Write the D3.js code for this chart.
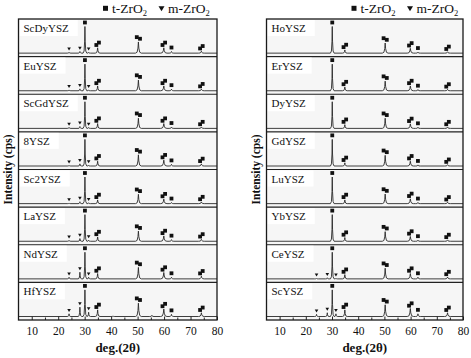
<!doctype html>
<html>
<head>
<meta charset="utf-8" />
<script src="https://d3js.org/d3.v7.min.js"></script>
<style>
  body { margin: 0; padding: 0; background: #fff; }
  svg { display: block; font-family: "Liberation Serif", "Times New Roman", serif; }
</style>
</head>
<body>
<script>
// muestras de cada panel (de arriba a abajo)
const leftSamples = ["ScDyYSZ", "EuYSZ", "ScGdYSZ", "8YSZ", "Sc2YSZ", "LaYSZ", "NdYSZ", "HfYSZ"];
const rightSamples = ["HoYSZ", "ErYSZ", "DyYSZ", "GdYSZ", "LuYSZ", "YbYSZ", "CeYSZ", "ScYSZ"];

// posiciones de los picos (2θ), fase y número de marcadores
const peakPos = [24.1, 28.2, 30.1, 31.5, 34.9, 40.7, 50.3, 55.4, 59.9, 62.8, 74.1];
const peakPhase = ["m", "m", "t", "m", "t", "", "t", "", "t", "t", "t"];
const peakMarks = [1, 1, 1, 1, 2, 0, 2, 0, 2, 1, 2];
const peakWidth = [0.7, 0.7, 0.7, 0.7, 0.9, 0.7, 1.1, 0.8, 1.2, 0.9, 1.1];

// intensidades relativas (pico principal = 100)
const leftHeights = [
  [3, 6, 100, 3, 20, 0, 42, 0, 20, 6, 7],
  [3, 7, 100, 3, 18, 0, 40, 0, 18, 6, 6],
  [3, 7, 100, 3, 18, 0, 38, 0, 18, 5, 5],
  [2, 8, 100, 3, 18, 0, 42, 0, 22, 6, 8],
  [2, 7, 100, 3, 14, 0, 35, 0, 17, 4, 6],
  [3, 10, 100, 4, 16, 0, 38, 0, 20, 6, 7],
  [6, 25, 100, 6, 20, 0, 43, 0, 24, 6, 10],
  [10, 35, 100, 16, 25, 2, 50, 4, 28, 8, 14]
];
const rightHeights = [
  [0, 0, 100, 0, 12, 0, 38, 0, 18, 4, 5],
  [0, 0, 100, 0, 14, 0, 36, 0, 18, 4, 5],
  [0, 0, 100, 0, 14, 0, 38, 0, 17, 4, 5],
  [0, 0, 100, 0, 12, 0, 40, 0, 18, 4, 5],
  [0, 0, 100, 0, 14, 0, 36, 0, 18, 4, 5],
  [0, 0, 100, 0, 14, 0, 36, 0, 18, 4, 5],
  [2, 4, 100, 2, 16, 0, 40, 0, 20, 6, 7],
  [8, 14, 100, 10, 25, 0, 44, 0, 30, 10, 14]
];

const majorTicks = [10, 20, 30, 40, 50, 60, 70, 80];
const minorTicks = [15, 25, 35, 45, 55, 65, 75];

const W = 471, H = 358;
const plotTop = 19, plotBottom = 320;

const svg = d3.select("body").append("svg")
  .attr("width", W)
  .attr("height", H);

const panels = [
  { samples: leftSamples, heights: leftHeights, x0: 18.5, x1: 217, ylabX: 8, legX: 103 },
  { samples: rightSamples, heights: rightHeights, x0: 266.5, x1: 463, ylabX: 256, legX: 351.5 }
];

// forma de un pico (fracción del ancho, fracción de la altura)
const profile = [[-1, 0], [-0.45, 0.08], [-0.15, 0.45], [0, 1], [0.15, 0.45], [0.45, 0.08], [1, 0]];

// desplazamiento de los marcadores dobles (px)
const pairOffset = {
  4: [[-1.3, 1.2], [1.3, -1.2]],
  6: [[-1.6, -0.8], [1.6, 0.8]],
  8: [[-1.3, 1.2], [1.3, -1.2]],
  10: [[-1.3, 1.2], [1.3, -1.2]]
};

panels.forEach(p => {
  const x = d3.scaleLinear().domain([5, 80]).range([p.x0, p.x1]);
  const band = d3.scaleBand().domain(p.samples).range([plotTop, plotBottom]);
  const g = svg.append("g");

  g.append("rect")
    .attr("x", p.x0).attr("y", plotTop)
    .attr("width", p.x1 - p.x0).attr("height", plotBottom - plotTop)
    .attr("fill", "#f6f6f6");

  p.samples.forEach((s, i) => {
    const bt = band(s);
    const bb = bt + band.bandwidth();
    const y = d3.scaleLinear().domain([0, 100]).range([bb - 3.5, bt + 7.5]);
    const hs = p.heights[i];

    // puntos del difractograma
    let pts = [[5, 0]];
    peakPos.forEach((pos, j) => {
      if (hs[j] > 0) {
        profile.forEach(f => pts.push([pos + f[0] * peakWidth[j], f[1] * hs[j]]));
      }
    });
    pts.push([80, 0]);
    pts.sort((a, b) => a[0] - b[0]);

    // caja blanca + etiqueta
    const box = g.append("rect")
      .attr("x", p.x0 + 1).attr("y", bt + 1)
      .attr("height", 16)
      .attr("fill", "#fff");
    const lab = g.append("text")
      .attr("x", p.x0 + 5).attr("y", bt + 13)
      .attr("font-size", 11)
      .attr("fill", "#111")
      .text(s);
    box.attr("width", lab.node().getComputedTextLength() + 13);

    g.append("path")
      .datum(pts)
      .attr("fill", "none")
      .attr("stroke", "#2a2a2a")
      .attr("stroke-width", 0.9)
      .attr("d", d3.line().x(d => x(d[0])).y(d => y(d[1])));

    // marcadores de fase
    peakPos.forEach((pos, j) => {
      if (hs[j] <= 0 || peakMarks[j] === 0) return;
      const cx = x(pos), cy = y(hs[j]);
      if (peakPhase[j] === "t") {
        const offs = peakMarks[j] === 2 ? pairOffset[j] : [[0, 0]];
        offs.forEach(o => {
          g.append("rect")
            .attr("x", cx + o[0] - 1.9).attr("y", cy - 4 + o[1] - 1.9)
            .attr("width", 3.8).attr("height", 3.8)
            .attr("fill", "#111");
        });
      } else if (peakPhase[j] === "m") {
        const ty = cy - 3.5;
        g.append("path")
          .attr("d", `M${cx - 1.8},${ty - 1.4}L${cx + 1.8},${ty - 1.4}L${cx},${ty + 1.6}Z`)
          .attr("fill", "#111");
      }
    });

    if (i < p.samples.length - 1) {
      g.append("line")
        .attr("x1", p.x0).attr("x2", p.x1)
        .attr("y1", bb).attr("y2", bb)
        .attr("stroke", "#222").attr("stroke-width", 1.1);
    }
  });

  // eje x con marcas hacia dentro
  const axMaj = g.append("g")
    .attr("transform", `translate(0,${plotBottom})`)
    .call(d3.axisBottom(x).tickValues(majorTicks).tickSize(-3.5).tickPadding(7));
  const axMin = g.append("g")
    .attr("transform", `translate(0,${plotBottom})`)
    .call(d3.axisBottom(x).tickValues(minorTicks).tickSize(-2.5).tickFormat(""));
  [axMaj, axMin].forEach(a => {
    a.select(".domain").remove();
    a.selectAll("line").attr("stroke", "#222");
  });
  axMaj.selectAll("text")
    .attr("font-family", "Liberation Serif, serif")
    .attr("font-size", 11.5)
    .attr("fill", "#111");

  g.append("rect")
    .attr("x", p.x0).attr("y", plotTop)
    .attr("width", p.x1 - p.x0).attr("height", plotBottom - plotTop)
    .attr("fill", "none")
    .attr("stroke", "#1a1a1a")
    .attr("stroke-width", 1.3);

  // títulos de ejes
  g.append("text")
    .attr("x", (p.x0 + p.x1) / 2).attr("y", 352)
    .attr("text-anchor", "middle")
    .attr("font-size", 13).attr("font-weight", "bold")
    .attr("fill", "#111")
    .text("deg.(2θ)");

  g.append("text")
    .attr("transform", `translate(${p.ylabX + 4},${(plotTop + plotBottom) / 2}) rotate(-90)`)
    .attr("text-anchor", "middle")
    .attr("font-size", 11.5).attr("font-weight", "bold")
    .attr("fill", "#111")
    .text("Intensity (cps)");

  // leyenda
  const lg = g.append("g").attr("transform", `translate(${p.legX},0)`);
  lg.append("rect").attr("x", 0).attr("y", 5.8).attr("width", 5).attr("height", 5).attr("fill", "#111");
  const t1 = lg.append("text").attr("x", 9).attr("y", 12.7).attr("font-size", 13.5).attr("fill", "#111");
  t1.append("tspan").text("t-ZrO");
  t1.append("tspan").attr("font-size", 8.5).attr("dy", 3).text("2");
  lg.append("path").attr("d", "M55.5,6.2L61.5,6.2L58.5,11.2Z").attr("fill", "#111");
  const t2 = lg.append("text").attr("x", 65).attr("y", 12.7).attr("font-size", 13.5).attr("fill", "#111");
  t2.append("tspan").text("m-ZrO");
  t2.append("tspan").attr("font-size", 8.5).attr("dy", 3).text("2");
});
</script>
</body>
</html>
